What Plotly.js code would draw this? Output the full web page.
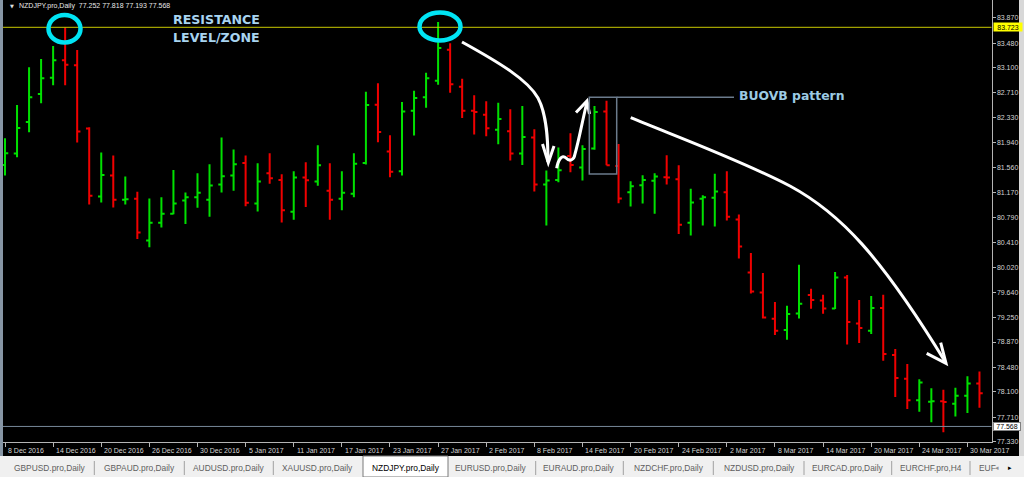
<!DOCTYPE html>
<html><head><meta charset="utf-8">
<script src="https://cdn.plot.ly/plotly-3.0.1.min.js"></script>
<style>html,body{margin:0;padding:0;background:#000;overflow:hidden}#chart{width:1024px;height:477px}</style>
</head><body><div id="chart"></div>
<script>
// ---- data ----
const dates = [
 '2016-12-08','2016-12-09','2016-12-12','2016-12-13','2016-12-14','2016-12-15','2016-12-16','2016-12-19','2016-12-20','2016-12-21',
 '2016-12-22','2016-12-23','2016-12-26','2016-12-27','2016-12-28','2016-12-29','2016-12-30','2017-01-02','2017-01-03','2017-01-04',
 '2017-01-05','2017-01-06','2017-01-09','2017-01-10','2017-01-11','2017-01-12','2017-01-13','2017-01-16','2017-01-17','2017-01-18',
 '2017-01-19','2017-01-20','2017-01-23','2017-01-24','2017-01-25','2017-01-26','2017-01-27','2017-01-30','2017-01-31','2017-02-01',
 '2017-02-02','2017-02-03','2017-02-06','2017-02-07','2017-02-08','2017-02-09','2017-02-10','2017-02-13','2017-02-14','2017-02-15',
 '2017-02-16','2017-02-17','2017-02-20','2017-02-21','2017-02-22','2017-02-23','2017-02-24','2017-02-27','2017-02-28','2017-03-01',
 '2017-03-02','2017-03-03','2017-03-06','2017-03-07','2017-03-08','2017-03-09','2017-03-10','2017-03-13','2017-03-14','2017-03-15',
 '2017-03-16','2017-03-17','2017-03-20','2017-03-21','2017-03-22','2017-03-23','2017-03-24','2017-03-27','2017-03-28','2017-03-29',
 '2017-03-30','2017-03-31'];
const opens = [
 81.601,81.775,82.264,82.695,82.946,83.215,83.138,82.161,81.113,81.437,
 81.062,81.078,80.435,80.708,80.846,81.051,81.104,81.062,81.298,81.437,
 81.632,81.005,81.474,81.370,80.877,81.406,81.344,81.201,81.078,81.155,
 81.632,82.530,81.806,81.504,82.438,82.644,82.900,83.378,82.808,82.438,
 82.376,82.145,82.121,81.775,82.022,81.298,81.370,81.740,81.560,81.853,
 82.423,81.586,81.181,81.289,81.355,81.412,81.381,80.708,81.078,81.093,
 81.181,80.759,79.942,79.634,79.229,79.055,79.310,79.594,79.511,79.388,
 79.865,79.156,79.044,79.393,78.669,78.304,77.970,77.950,77.955,77.919,
 78.042,78.232];
const highs = [
 82.013,82.526,83.107,83.235,83.435,83.720,83.374,82.182,81.791,81.745,
 81.421,81.186,81.082,81.104,81.524,81.175,81.474,81.612,82.022,81.837,
 81.745,81.627,81.782,81.458,81.504,81.643,81.905,81.627,81.504,81.782,
 82.731,82.860,82.059,82.572,82.746,83.024,83.805,83.477,82.931,82.675,
 82.583,82.561,82.460,82.511,82.151,81.514,81.868,82.090,81.905,82.511,
 82.592,81.925,81.350,81.443,81.474,81.751,81.597,81.232,81.135,81.463,
 81.504,80.836,80.241,79.933,79.486,79.429,80.061,79.691,79.599,79.948,
 79.902,79.516,79.578,79.599,78.762,78.530,78.294,78.155,78.135,78.166,
 78.340,78.417];
const lows = [
 81.437,81.720,82.105,82.552,82.829,82.829,81.945,80.990,81.021,80.944,
 80.990,80.457,80.333,80.635,80.842,80.688,80.939,80.800,81.175,81.201,
 80.965,80.882,81.309,80.712,80.754,80.950,81.278,80.754,80.903,81.104,
 81.606,81.951,81.412,81.437,82.053,82.484,82.839,82.715,82.326,82.068,
 82.044,81.920,81.668,81.601,81.190,80.666,81.335,81.489,81.359,81.833,
 81.597,81.011,80.959,81.005,80.846,81.298,80.534,80.512,80.666,80.651,
 80.743,80.158,79.619,79.233,78.977,78.905,79.233,79.383,79.306,79.378,
 78.833,78.854,78.993,78.581,78.022,77.837,77.796,77.631,77.477,77.723,
 77.776,77.858];
const closes = [
 81.782,82.171,82.644,82.937,83.215,83.147,82.115,81.124,81.447,81.062,
 81.073,80.558,80.708,80.846,81.005,81.104,81.170,81.283,81.427,81.612,
 81.016,81.344,81.396,80.903,81.406,81.366,81.597,81.062,81.170,81.617,
 82.526,82.110,81.494,82.423,82.634,82.937,83.404,82.845,82.438,82.418,
 82.167,82.310,81.775,82.033,81.298,81.359,81.520,81.601,81.848,82.418,
 81.597,81.082,81.273,81.370,81.421,81.406,80.677,81.021,81.104,81.190,
 80.800,80.343,79.650,79.249,79.044,79.301,79.460,79.516,79.388,79.865,
 79.178,79.085,79.393,78.684,78.315,77.970,78.247,77.955,77.945,78.042,
 78.232,78.078];
const priceTicks = [83.870,83.480,83.100,82.710,82.330,81.940,81.560,81.170,80.790,80.410,80.020,79.640,79.250,78.870,78.480,78.100,77.710,77.330];
const tickDates = ['2016-12-08','2016-12-14','2016-12-20','2016-12-26','2016-12-30','2017-01-05','2017-01-11','2017-01-17','2017-01-23','2017-01-27','2017-02-02','2017-02-08','2017-02-14','2017-02-20','2017-02-24','2017-03-02','2017-03-08','2017-03-14','2017-03-20','2017-03-24','2017-03-30'];
const tickLabels = ['8 Dec 2016','14 Dec 2016','20 Dec 2016','26 Dec 2016','30 Dec 2016','5 Jan 2017','11 Jan 2017','17 Jan 2017','23 Jan 2017','27 Jan 2017','2 Feb 2017','8 Feb 2017','14 Feb 2017','20 Feb 2017','24 Feb 2017','2 Mar 2017','8 Mar 2017','14 Mar 2017','20 Mar 2017','24 Mar 2017','30 Mar 2017'];
const resistanceLevel = 83.723;
const bidPrice = 77.568;
const headerSymbol = 'NZDJPY.pro,Daily';
const headerOHLC = ['77.252','77.818','77.193','77.568'];
const tabNames = ['GBPUSD.pro,Daily','GBPAUD.pro,Daily','AUDUSD.pro,Daily','XAUUSD.pro,Daily','NZDJPY.pro,Daily','EURUSD.pro,Daily','EURAUD.pro,Daily','NZDCHF.pro,Daily','NZDUSD.pro,Daily','EURCAD.pro,Daily','EURCHF.pro,H4'];
const activeTab = 'NZDJPY.pro,Daily';

// ---- layout helpers (pixel -> paper) ----
const W = 1024, H = 477;
const px = x => x / W;
const py = y => 1 - y / H;
const toPaper = s => s.replace(/(-?\d+\.?\d*),(-?\d+\.?\d*)/g, (m, a, b) => px(+a).toFixed(5) + ',' + py(+b).toFixed(5));
const plotRight = 991.5, plotBottom = 442;

const smallFont = 'Liberation Sans, Arial, sans-serif';
const shapes = [];
const annotations = [];

// horizontal level lines
shapes.push({type:'line', xref:'paper', yref:'y', x0:0, x1:px(plotRight), y0:resistanceLevel, y1:resistanceLevel, line:{color:'#c8c800', width:1}});
shapes.push({type:'line', xref:'paper', yref:'y', x0:0, x1:px(plotRight), y0:bidPrice, y1:bidPrice, line:{color:'#778899', width:1}});

// window frames and tab bar
shapes.push({type:'rect', xref:'paper', yref:'paper', x0:0, x1:px(3), y0:py(456), y1:1, fillcolor:'#8796a5', line:{width:0}});
shapes.push({type:'rect', xref:'paper', yref:'paper', x0:px(1019), x1:1, y0:py(456), y1:1, fillcolor:'#d8d8d8', line:{width:0}});
shapes.push({type:'rect', xref:'paper', yref:'paper', x0:0, x1:1, y0:0, y1:py(456), fillcolor:'#f0f0f0', line:{width:0}});
shapes.push({type:'rect', xref:'paper', yref:'paper', x0:px(363), x1:px(448), y0:py(477), y1:py(456), fillcolor:'#ffffff', line:{color:'#7a7a7a', width:1}});
[94.3,184.3,273.3,535.7,623.3,713.3,804,891.7,970].forEach(x => {
  shapes.push({type:'line', xref:'paper', yref:'paper', x0:px(x), x1:px(x), y0:py(461), y1:py(475), line:{color:'#a0a0a0', width:1}});
});

// cyan hand-drawn circles
shapes.push({type:'circle', xref:'paper', yref:'paper', x0:px(48.5), x1:px(80.5), y0:py(42.5), y1:py(15), line:{color:'#00e4f4', width:4.5}});
shapes.push({type:'circle', xref:'paper', yref:'paper', x0:px(419.5), x1:px(460.5), y0:py(40.5), y1:py(12.5), line:{color:'#00e4f4', width:4.5}});

// white arrows
const arrow = {type:'path', xref:'paper', yref:'paper', line:{color:'#ffffff', width:3}};
shapes.push(Object.assign({}, arrow, {path: toPaper('M462,42 C500,63 528,80 538,98 C547,115 548,140 548,162')}));
shapes.push(Object.assign({}, arrow, {path: toPaper('M542.5,144 L548.3,162.7 L554,146')}));
shapes.push(Object.assign({}, arrow, {path: toPaper('M556.7,168.3 C558,160 562,154 566,158 C570,162 574,160 575,154 C579,140 583,118 587,102')}));
shapes.push(Object.assign({}, arrow, {path: toPaper('M576,112.5 L587,101 L589.5,114')}));
shapes.push(Object.assign({}, arrow, {path: toPaper('M630.7,117.7 C680,138 740,160 790,186 C840,213 880,255 946,363')}));
shapes.push(Object.assign({}, arrow, {path: toPaper('M926.7,353.3 L946,363.3 L940.7,342.7')}));

// BUOVB pattern box and leader line
shapes.push({type:'path', xref:'paper', yref:'paper', path: toPaper('M589.3,97.3 L616.7,97.3 L616.7,174 L589.3,174 Z'), line:{color:'#6b7b8c', width:1.5}});
shapes.push({type:'path', xref:'paper', yref:'paper', path: toPaper('M616.7,97.3 L734,97.3'), line:{color:'#6b7b8c', width:1.5}});

// date labels
tickDates.forEach((d, k) => {
  annotations.push({x:d, xref:'x', y:py(450.5), yref:'paper', text:tickLabels[k], showarrow:false, xanchor:'left', yanchor:'middle', xshift:1, font:{family:smallFont, size:7, color:'#d4d4d4'}});
});

// price boxes
annotations.push({x:px(992.5), xref:'paper', y:resistanceLevel, yref:'y', text:resistanceLevel.toFixed(3), showarrow:false, xanchor:'left', yanchor:'middle', bgcolor:'#ffff00', width:28, height:8, borderpad:0, font:{family:smallFont, size:7, color:'#000000'}});
annotations.push({x:px(992.5), xref:'paper', y:bidPrice, yref:'y', text:bidPrice.toFixed(3), showarrow:false, xanchor:'left', yanchor:'middle', bgcolor:'#ffffff', bordercolor:'#808080', borderwidth:1, width:26, height:7, borderpad:0, font:{family:smallFont, size:7, color:'#000000'}});

// header
annotations.push({x:px(8), xref:'paper', y:py(6), yref:'paper', text:'\u25BC', showarrow:false, xanchor:'left', yanchor:'middle', font:{family:'DejaVu Sans', size:5, color:'#e0e0e0'}});
annotations.push({x:px(17), xref:'paper', y:py(6), yref:'paper', text:headerSymbol + '\u00a0\u00a0' + headerOHLC.join(' '), showarrow:false, xanchor:'left', yanchor:'middle', font:{family:smallFont, size:7, color:'#e8e8e8'}});

// overlay texts
const noteFont = {family:'DejaVu Sans, sans-serif', size:12.6, color:'#a8d4f0', weight:'bold'};
annotations.push({x:px(171), xref:'paper', y:py(19.5), yref:'paper', text:'RESISTANCE', showarrow:false, xanchor:'left', yanchor:'middle', font:noteFont});
annotations.push({x:px(171), xref:'paper', y:py(37.5), yref:'paper', text:'LEVEL/ZONE', showarrow:false, xanchor:'left', yanchor:'middle', font:noteFont});
annotations.push({x:px(737), xref:'paper', y:py(95), yref:'paper', text:'BUOVB pattern', showarrow:false, xanchor:'left', yanchor:'middle', font:{family:'DejaVu Sans, sans-serif', size:12.4, color:'#9ccbe4', weight:'bold'}});

// tabs
const tabCenters = [50,139,229,317.5,405.5,491,578.5,669,759,847.5,931];
tabNames.forEach((t, k) => {
  annotations.push({x:px(tabCenters[k]), xref:'paper', y:py(467.5), yref:'paper', text:t, showarrow:false, xanchor:'center', yanchor:'middle', font:{family:smallFont, size:8.4, color: t === activeTab ? '#000000' : '#5e5e5e'}});
});
annotations.push({x:px(977), xref:'paper', y:py(467.5), yref:'paper', text:'EUF', showarrow:false, xanchor:'left', yanchor:'middle', font:{family:smallFont, size:8.4, color:'#5e5e5e'}});
annotations.push({x:px(997), xref:'paper', y:py(467.5), yref:'paper', text:'\u25C2', showarrow:false, xanchor:'center', yanchor:'middle', font:{family:'DejaVu Sans', size:7, color:'#909090'}});
annotations.push({x:px(1010), xref:'paper', y:py(467.5), yref:'paper', text:'\u25B8', showarrow:false, xanchor:'center', yanchor:'middle', font:{family:'DejaVu Sans', size:7, color:'#000000'}});

const trace = {
  type:'ohlc', x:dates, open:opens, high:highs, low:lows, close:closes,
  increasing:{line:{color:'#00e000', width:2}},
  decreasing:{line:{color:'#f00000', width:2}},
  tickwidth:0.27, hoverinfo:'skip', showlegend:false
};

const layout = {
  width:W, height:H, margin:{l:0, r:0, t:0, b:0, pad:0},
  paper_bgcolor:'#000000', plot_bgcolor:'#000000', showlegend:false,
  xaxis:{type:'category', domain:[0, px(plotRight)], range:[-0.4156, 82.0], rangeslider:{visible:false},
    showgrid:false, zeroline:false, showline:true, linecolor:'#b4b4b4', linewidth:1,
    ticks:'outside', ticklen:4, tickcolor:'#b4b4b4', tickvals:tickDates, showticklabels:false, fixedrange:true},
  yaxis:{side:'right', domain:[1 - plotBottom / H, 1], range:[77.328, 84.144],
    showgrid:false, zeroline:false, showline:true, linecolor:'#b4b4b4', linewidth:1,
    ticks:'outside', ticklen:3, tickcolor:'#b4b4b4', tickvals:priceTicks, ticktext:priceTicks.map(v => v.toFixed(3)),
    tickfont:{family:smallFont, size:7, color:'#d4d4d4'}, fixedrange:true},
  shapes:shapes, annotations:annotations
};

Plotly.newPlot('chart', [trace], layout, {staticPlot:true, displayModeBar:false});
</script>
</body></html>
